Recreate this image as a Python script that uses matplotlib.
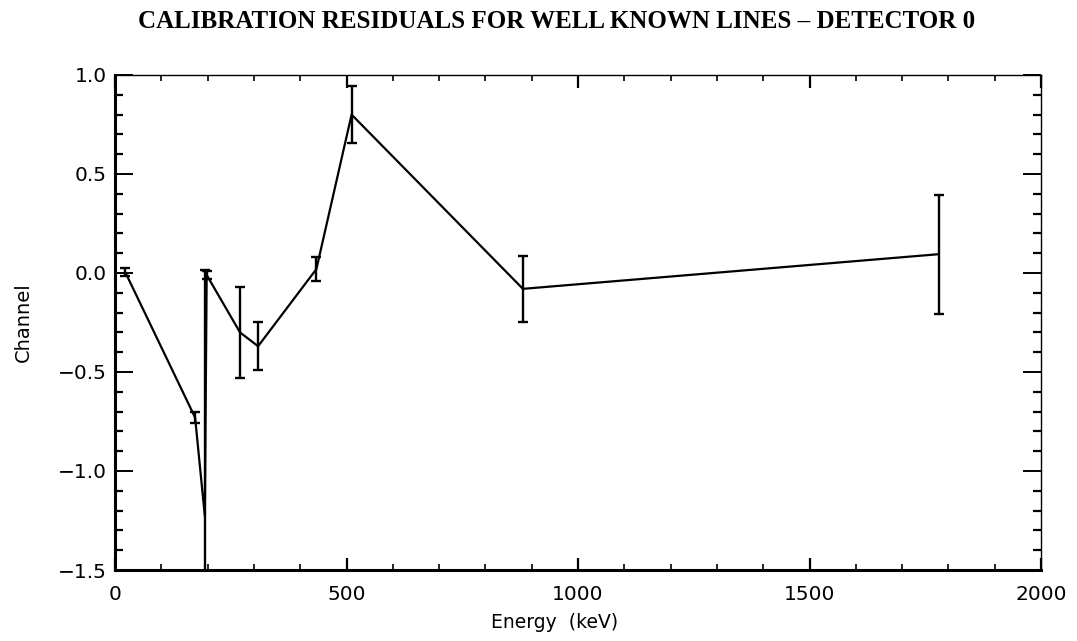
import matplotlib
matplotlib.use("Agg")
import matplotlib.pyplot as plt
from matplotlib.ticker import MultipleLocator

energy_kev = [22, 173, 194, 198, 270, 309, 435, 511, 881, 1779]
residual_ch = [0.005, -0.73, -1.227, -0.01, -0.30, -0.37, 0.02, 0.80, -0.08, 0.095]
residual_err = [0.02, 0.03, 1.24, 0.02, 0.23, 0.12, 0.06, 0.145, 0.165, 0.30]

title_text = "CALIBRATION RESIDUALS FOR WELL KNOWN LINES \u2013 DETECTOR 0"

fig = plt.figure(figsize=(10.77, 6.41), dpi=100)
ax = fig.add_axes([115/1077, 1-570/641, (1041-115)/1077, (570-75)/641])

ax.plot(energy_kev, residual_ch, color="black", lw=1.6)
ax.errorbar(energy_kev, residual_ch, yerr=residual_err, fmt="none",
            ecolor="black", elinewidth=1.7, capsize=3.8, capthick=1.7)

ax.set_xlim(0, 2000)
ax.set_ylim(-1.5, 1.0)
ax.xaxis.set_major_locator(MultipleLocator(500))
ax.xaxis.set_minor_locator(MultipleLocator(100))
ax.yaxis.set_major_locator(MultipleLocator(0.5))
ax.yaxis.set_minor_locator(MultipleLocator(0.1))
ax.yaxis.set_major_formatter(matplotlib.ticker.FuncFormatter(lambda v, p: f"{v:.1f}".replace("-", "\u2212")))

ax.tick_params(axis="x", which="major", direction="in", length=9, width=1.6,
               top=True, bottom=True, labelsize=14.5, pad=11)
ax.tick_params(axis="x", which="minor", direction="in", length=4.5, width=1.2,
               top=True, bottom=True)
ax.tick_params(axis="y", which="major", direction="in", length=13, width=1.4,
               left=True, right=True, labelsize=14.5, pad=6)
ax.tick_params(axis="y", which="minor", direction="in", length=6, width=1.6,
               left=True, right=True)
for lab in ax.get_xticklabels() + ax.get_yticklabels():
    lab.set_family("DejaVu Sans")

ax.spines["left"].set_linewidth(2.2)
ax.spines["bottom"].set_linewidth(2.2)
ax.spines["top"].set_linewidth(1.0)
ax.spines["right"].set_linewidth(1.0)

fig.text(555/1077, 1-623/641, "Energy  (keV)", ha="center", va="center",
         fontsize=13.5, family="DejaVu Sans")
fig.text(23/1077, 1-322/641, "Channel", ha="center", va="center",
         rotation=90, fontsize=14, family="DejaVu Sans")
fig.text(557/1077, 1-22/641, title_text, ha="center", va="center",
         fontsize=18, fontweight="bold", family="Liberation Serif")

fig.savefig("out.png", dpi=100)
